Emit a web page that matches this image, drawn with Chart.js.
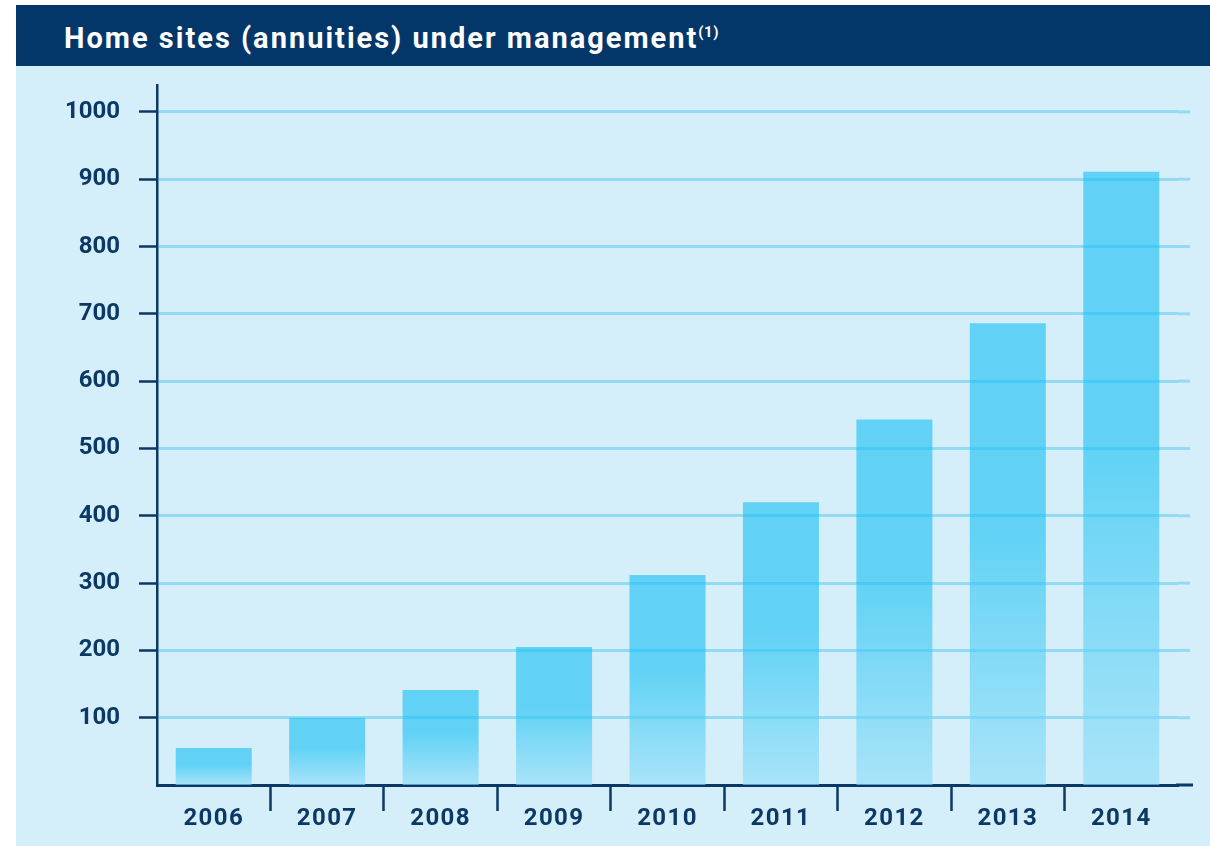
<!DOCTYPE html>
<html>
<head>
<meta charset="utf-8">
<script src="https://cdn.jsdelivr.net/npm/chart.js@4.4.1/dist/chart.umd.min.js"></script>
<style>
  html, body { margin: 0; padding: 0; background: #ffffff; width: 1210px; height: 846px; overflow: hidden; }
  #panel { position: absolute; left: 16px; top: 66px; width: 1194px; height: 780px; background: #d4eefa; }
  #titlebar { position: absolute; left: 16px; top: 5px; width: 1194px; height: 61px; background: #043769; }
  #title { position: absolute; left: 48px; top: 18px; color: #ffffff; font-family: Roboto, "DejaVu Sans", sans-serif; font-weight: 700; font-size: 29px; letter-spacing: 2px; white-space: nowrap; line-height: 30px; }
  #title sup { font-size: 15px; letter-spacing: 0.5px; vertical-align: 0; position: relative; top: -11px; }
  #wrap { position: absolute; left: 0; top: 0; width: 1210px; height: 846px; }
</style>
</head>
<body>
<div id="panel"></div>
<div id="titlebar"><div id="title">Home sites (annuities) under management<sup>(1)</sup></div></div>
<div id="wrap"><canvas id="c" width="1210" height="846"></canvas></div>
<script>
const years = ["2006", "2007", "2008", "2009", "2010", "2011", "2012", "2013", "2014"];
const homeSites = [55, 100, 141, 205, 312, 420, 543, 686, 911];
const yTickValues = [100, 200, 300, 400, 500, 600, 700, 800, 900, 1000];

const NAVY = '#0b3864';
const GRID = '#93dbf5';
const TOP_COL = 'rgba(20,192,242,0.6)';
const BOT_COL = 'rgba(139,221,247,0.6)';

function barGradient(context) {
  const chart = context.chart;
  const ya = chart.scales && chart.scales.y;
  if (!chart.chartArea || !ya || context.parsed === undefined) return TOP_COL;
  const v = context.parsed.y;
  const yTop = ya.getPixelForValue(v);
  const yBot = ya.getPixelForValue(0);
  if (!isFinite(yTop) || !isFinite(yBot) || yBot - yTop < 1) return TOP_COL;
  const g = chart.ctx.createLinearGradient(0, yTop, 0, yBot);
  g.addColorStop(0, TOP_COL);
  g.addColorStop(0.45, TOP_COL);
  g.addColorStop(1, BOT_COL);
  return g;
}

const extendPlugin = {
  id: 'extendLines',
  beforeDatasetsDraw(chart) {
    const ctx = chart.ctx;
    const ya = chart.scales.y;
    const ca = chart.chartArea;
    ctx.save();
    ctx.strokeStyle = GRID;
    ctx.lineWidth = 3;
    ya.ticks.forEach(t => {
      const y = ya.getPixelForValue(t.value);
      ctx.beginPath();
      ctx.moveTo(ca.right, y);
      ctx.lineTo(ca.right + 12, y);
      ctx.stroke();
    });
    ctx.strokeStyle = NAVY;
    ctx.lineWidth = 3;
    ctx.beginPath();
    ctx.moveTo(ca.right - 2, ca.bottom);
    ctx.lineTo(ca.right + 15, ca.bottom);
    ctx.stroke();
    ctx.restore();
  }
};

function spacedLabels(scale) {
  if (scale._spacedPatched) return;
  scale._spacedPatched = true;
  const orig = scale.drawLabels;
  scale.drawLabels = function (area) {
    const ctx = this.ctx;
    ctx.save();
    ctx.letterSpacing = '1.4px';
    orig.call(this, area);
    ctx.restore();
  };
}

new Chart(document.getElementById('c'), {
  type: 'bar',
  data: {
    labels: years,
    datasets: [{
      data: homeSites,
      backgroundColor: barGradient,
      borderWidth: 0,
      barPercentage: 0.67,
      categoryPercentage: 1.0
    }]
  },
  options: {
    responsive: false,
    animation: false,
    events: [],
    layout: { padding: { left: 20, right: 32, top: 85, bottom: 0 } },
    plugins: { legend: { display: false }, tooltip: { enabled: false }, title: { display: false } },
    scales: {
      x: {
        type: 'category',
        offset: true,
        afterFit(scale) { scale.height = 61; spacedLabels(scale); },
        grid: {
          offset: true,
          drawOnChartArea: false,
          drawTicks: true,
          tickLength: 26,
          tickWidth: 2.5,
          tickColor: (c) => (c.type !== 'tick' || c.index === 0) ? 'rgba(0,0,0,0)' : NAVY
        },
        border: { display: true, color: NAVY, width: 3 },
        ticks: {
          color: NAVY,
          padding: -6,
          font: { family: 'Roboto', weight: 'bold', size: 24 },
          maxRotation: 0
        }
      },
      y: {
        min: 0,
        max: 1040,
        afterFit(scale) { scale.width = 137; },
        afterBuildTicks(scale) { scale.ticks = yTickValues.map(v => ({ value: v })); },
        grid: {
          color: GRID,
          lineWidth: 3,
          drawTicks: true,
          tickLength: 18,
          tickColor: NAVY,
          tickWidth: 2.5
        },
        border: { display: true, color: NAVY, width: 2.5 },
        ticks: {
          color: NAVY,
          padding: 19,
          font: { family: 'Roboto', weight: 'bold', size: 24 },
          callback: (v) => String(v)
        }
      }
    }
  },
  plugins: [extendPlugin]
});
</script>
</body>
</html>
